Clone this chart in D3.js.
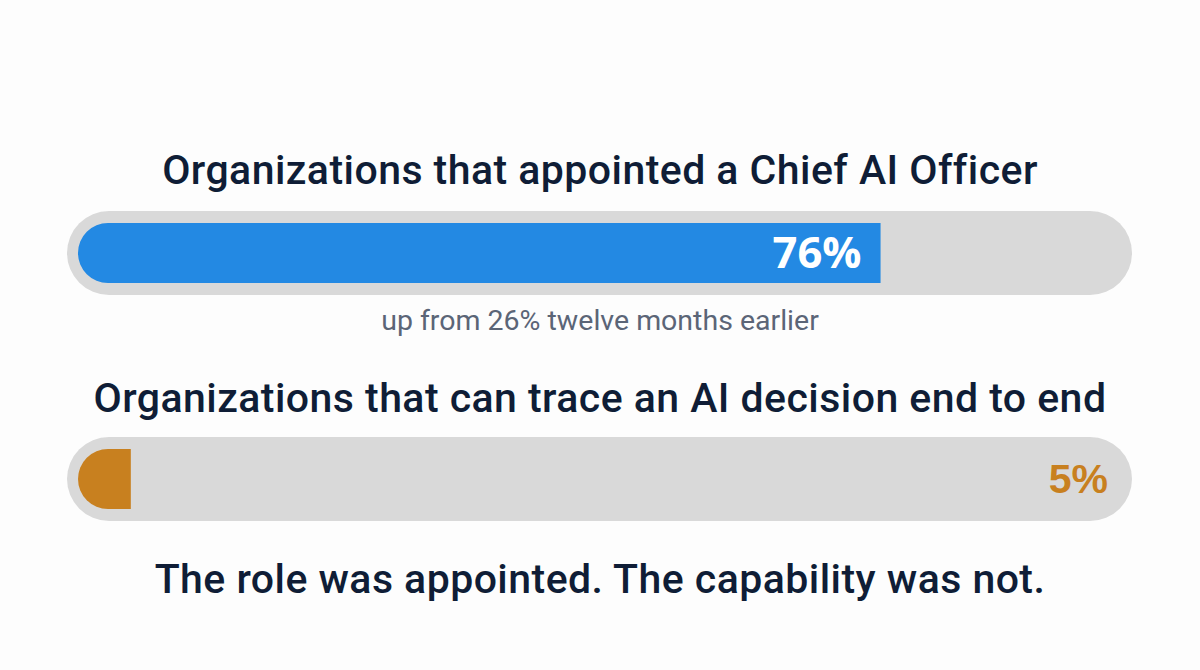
<!DOCTYPE html>
<html><head><meta charset="utf-8">
<script src="https://cdn.jsdelivr.net/npm/d3@7"></script>
<style>html,body{margin:0;padding:0;background:#fff;}</style>
</head><body>
<script>
const labels = ["Organizations that appointed a Chief AI Officer", "Organizations that can trace an AI decision end to end"];
const values = [76, 5];
const colors = ["#2389e3", "#c8801f"];
const note = "up from 26% twelve months earlier";
const closing = "The role was appointed. The capability was not.";

const W = 1200, H = 670;
const svg = d3.select("body").append("svg").attr("width", W).attr("height", H);
svg.append("rect").attr("width", W).attr("height", H).attr("fill", "#fdfdfd");

const x = d3.scaleLinear().domain([0, 100]).range([78, 1134]);
const trackTop = [211, 437];
const titleY = [184, 412];
const font = "Roboto, 'Noto Sans', sans-serif";

values.forEach((v, i) => {
  svg.append("text").attr("x", 600).attr("y", titleY[i]).attr("text-anchor", "middle")
    .attr("font-family", font).attr("font-weight", 500).attr("font-size", 41)
    .attr("letter-spacing", 0.45)
    .attr("fill", "#0f1d36").text(labels[i]);
  svg.append("rect").attr("x", 67).attr("y", trackTop[i]).attr("width", 1065).attr("height", 84)
    .attr("rx", 42).attr("fill", "#d9d9d9");
  const y0 = trackTop[i] + 12, h = 60, r = 30;
  const x0 = x(0), x1 = x(v);
  const p = d3.path();
  p.moveTo(x0 + r, y0);
  p.lineTo(x1, y0);
  p.lineTo(x1, y0 + h);
  p.lineTo(x0 + r, y0 + h);
  p.arc(x0 + r, y0 + r, r, Math.PI / 2, 3 * Math.PI / 2);
  p.closePath();
  svg.append("path").attr("d", p.toString()).attr("fill", colors[i]);
});

// value labels
svg.append("text").attr("x", x(values[0]) - 19).attr("y", 268).attr("text-anchor", "end")
  .attr("font-family", "'Open Sans', sans-serif").attr("font-weight", 700).attr("font-size", 43.5)
  .attr("fill", "#ffffff").text(values[0] + "%");
svg.append("text").attr("x", 1108).attr("y", 493).attr("text-anchor", "end")
  .attr("font-family", "'Liberation Sans', Arial, sans-serif").attr("font-weight", 700).attr("font-size", 41)
  .attr("fill", colors[1]).text(values[1] + "%");

svg.append("text").attr("x", 600).attr("y", 330).attr("text-anchor", "middle")
  .attr("font-family", font).attr("font-size", 28.5).attr("fill", "#5b6577").text(note);

svg.append("text").attr("x", 600).attr("y", 593).attr("text-anchor", "middle")
  .attr("font-family", font).attr("font-weight", 500).attr("font-size", 41)
  .attr("letter-spacing", 0.45)
  .attr("fill", "#0f1d36").text(closing);
</script>
</body></html>
